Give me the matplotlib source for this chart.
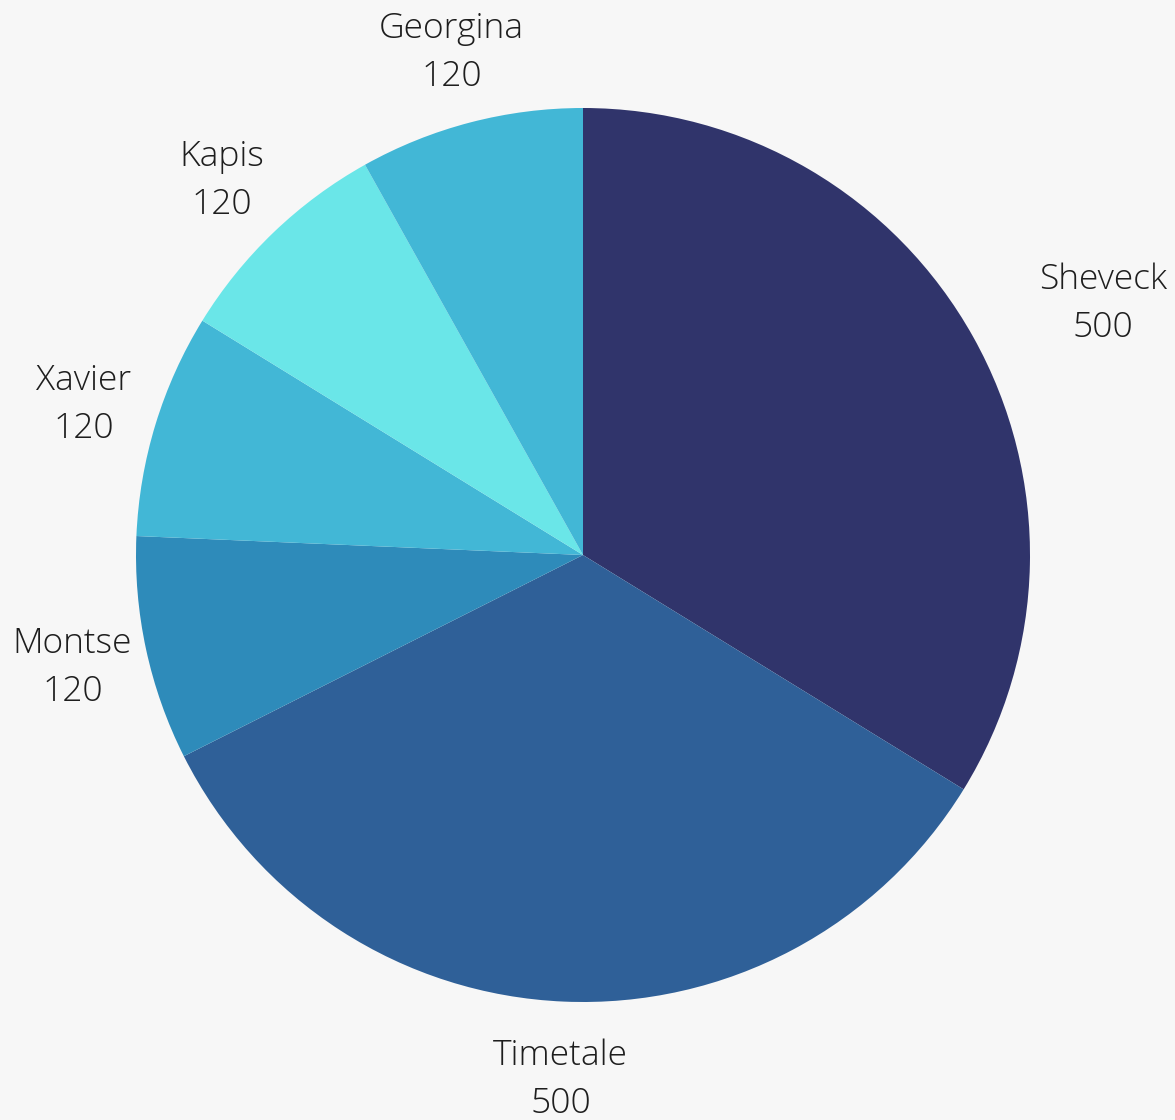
import numpy as np
import matplotlib.pyplot as plt

# pie data, clockwise from 12 o'clock
names = ['Sheveck', 'Timetale', 'Montse', 'Xavier', 'Kapis', 'Georgina']
values = [500, 500, 120, 120, 120, 120]
colors = ['#30346b', '#2f6098', '#2e8bba', '#42b7d6', '#6ae6e8', '#42b7d6']

W, H = 1175, 1120
cx, cy, R = 583, 555, 447  # pixel centre / radius

fig = plt.figure(figsize=(W / 100, H / 100), dpi=100)
fig.patch.set_facecolor('#f7f7f7')
ax = fig.add_axes([0, 0, 1, 1])
ax.set_facecolor('#f7f7f7')

ax.pie(values, colors=colors, startangle=90, counterclock=False, radius=1,
       center=(0, 0), wedgeprops=dict(linewidth=0))

ax.set_xlim(-cx / R, (W - cx) / R)
ax.set_ylim(-(H - cy) / R, cy / R)
ax.set_aspect('equal')
ax.axis('off')

# label positions: mid-angle of each slice at 1.17 radius
total = float(sum(values))
cum = np.cumsum([0] + values[:-1])
for i, (n, v) in enumerate(zip(names, values)):
    theta = np.deg2rad((cum[i] + v / 2) / total * 360)
    r = 1.168
    x, y = r * np.sin(theta), r * np.cos(theta)
    if n == 'Sheveck':
        x += 64 / R  # pushed outward in the original
    ax.text(x, y - 3 / R, '%s\n%d' % (n, v), ha='center', va='center',
            fontsize=25.5, family='Open Sans', fontweight='light',
            color='#1e1e1e', linespacing=1.5)

plt.savefig('out.png', dpi=100, facecolor=fig.get_facecolor())
